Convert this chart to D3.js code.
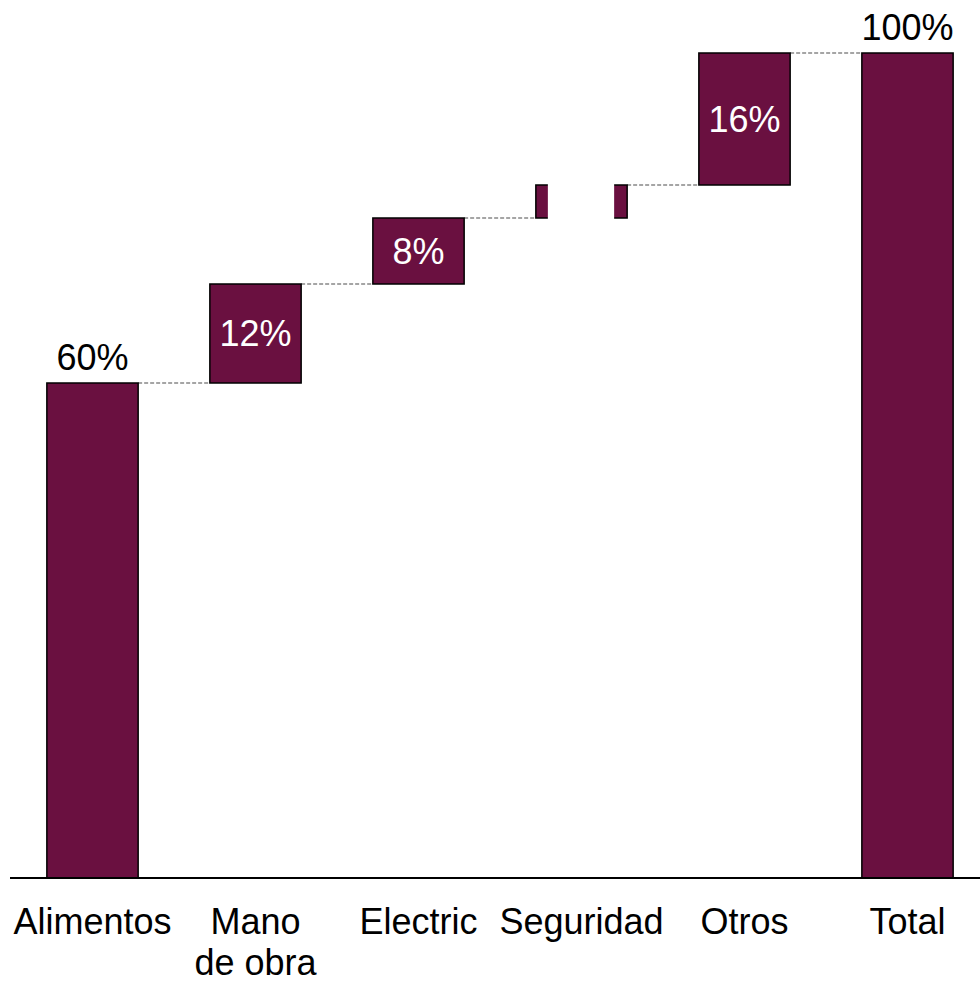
<!DOCTYPE html>
<html>
<head>
<meta charset="utf-8">
<script src="https://cdn.jsdelivr.net/npm/d3@7"></script>
<style>
  html, body { margin: 0; padding: 0; background: #fff; }
  svg { display: block; }
  text { font-family: "Liberation Sans", Arial, sans-serif; }
</style>
</head>
<body>
<svg id="chart" width="980" height="983"></svg>
<script>
// Data
const categories = ["Alimentos", "Mano\nde obra", "Electric", "Seguridad", "Otros", "Total"];
const values = [60, 12, 8, 4, 16, 100];
const isTotal = [true, false, false, false, false, true];
const valueLabels = ["60%", "12%", "8%", "", "16%", "100%"];

const barColor = "#6a1040";
const svg = d3.select("#chart");

const x = d3.scaleBand()
  .domain(categories)
  .range([11, 989])
  .paddingInner(0.44)
  .paddingOuter(0.22);

const y = d3.scaleLinear().domain([0, 100]).range([878, 53]);

// compute start/end
let cum = 0;
const bars = categories.map((c, i) => {
  let start, end;
  if (isTotal[i]) { start = 0; end = values[i]; cum = values[i]; }
  else { start = cum; end = cum + values[i]; cum = end; }
  return { cat: c, start, end, total: isTotal[i], label: valueLabels[i], i };
});

// connectors
for (let i = 0; i < bars.length - 1; i++) {
  const lvl = bars[i].end;
  svg.append("line")
    .attr("x1", x(bars[i].cat) + x.bandwidth())
    .attr("x2", x(bars[i + 1].cat))
    .attr("y1", y(lvl)).attr("y2", y(lvl))
    .attr("stroke", "#888")
    .attr("stroke-width", 1.5)
    .attr("stroke-dasharray", "4,2");
}

// bars
svg.selectAll("rect.bar").data(bars).enter().append("rect")
  .attr("class", "bar")
  .attr("x", d => x(d.cat))
  .attr("width", x.bandwidth())
  .attr("y", d => y(d.end))
  .attr("height", d => y(d.start) - y(d.end))
  .attr("fill", barColor)
  .attr("stroke", "#000")
  .attr("stroke-width", 1.5);

// Seguridad bar is partially hidden by a blank label box
const seg = bars[3];
svg.append("rect")
  .attr("x", x(seg.cat) + 12)
  .attr("width", x.bandwidth() - 25)
  .attr("y", y(seg.end) - 2)
  .attr("height", y(seg.start) - y(seg.end) + 4)
  .attr("fill", "#fff");

// axis baseline
svg.append("line")
  .attr("x1", 10).attr("x2", 980)
  .attr("y1", y(0)).attr("y2", y(0))
  .attr("stroke", "#000").attr("stroke-width", 2);

// value labels
bars.forEach(d => {
  if (!d.label) return;
  const cx = x(d.cat) + x.bandwidth() / 2;
  if (d.total) {
    svg.append("text")
      .attr("x", cx).attr("y", y(d.end) - 13)
      .attr("text-anchor", "middle")
      .attr("font-size", 36)
      .attr("fill", "#000")
      .text(d.label);
  } else {
    svg.append("text")
      .attr("x", cx).attr("y", (y(d.start) + y(d.end)) / 2)
      .attr("dy", "0.35em")
      .attr("text-anchor", "middle")
      .attr("font-size", 36)
      .attr("fill", "#fff")
      .text(d.label);
  }
});

// category labels
categories.forEach(c => {
  const cx = x(c) + x.bandwidth() / 2;
  const lines = c.split("\n");
  const t = svg.append("text")
    .attr("x", cx).attr("y", 934)
    .attr("text-anchor", "middle")
    .attr("font-size", 36)
    .attr("fill", "#000");
  lines.forEach((ln, k) => {
    t.append("tspan").attr("x", cx).attr("dy", k === 0 ? 0 : 41).text(ln);
  });
});
</script>
</body>
</html>
